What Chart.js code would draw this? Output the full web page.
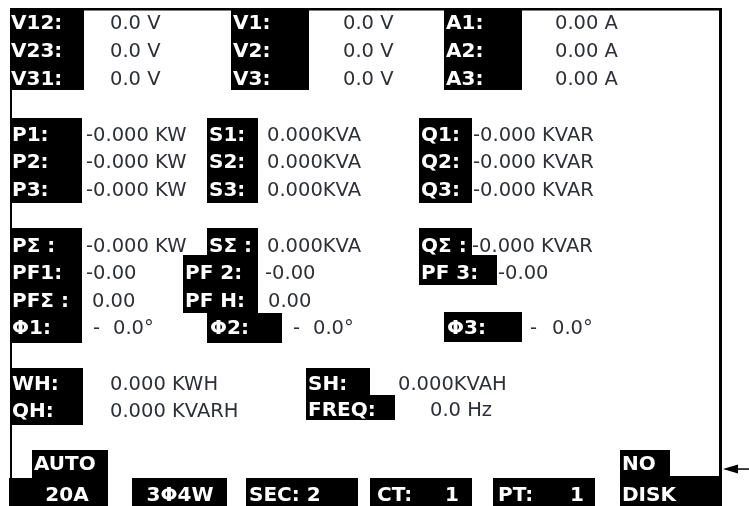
<!DOCTYPE html>
<html>
<head>
<meta charset="utf-8">
<title>Power meter display</title>
<script src="https://cdn.jsdelivr.net/npm/chart.js@4.4.1/dist/chart.umd.min.js"></script>
<style>
    html, body { margin: 0; padding: 0; background: #fff; }
    #box { width: 749px; height: 506px; }
</style>
</head>
<body>
<div id="box"><canvas id="meterChart" width="749" height="506"></canvas></div>
<script>
// Readings shown on the meter screen (-0 keeps the minus sign the meter shows)
const lineVoltLabels = ['V12:', 'V23:', 'V31:'];
const lineVolts = [0.0, 0.0, 0.0];
const phaseVoltLabels = ['V1:', 'V2:', 'V3:'];
const phaseVolts = [0.0, 0.0, 0.0];
const currentLabels = ['A1:', 'A2:', 'A3:'];
const currents = [0.00, 0.00, 0.00];

const activeLabels = ['P1:', 'P2:', 'P3:'];
const activePower = [-0, -0, -0];
const apparentLabels = ['S1:', 'S2:', 'S3:'];
const apparentPower = [0, 0, 0];
const reactiveLabels = ['Q1:', 'Q2:', 'Q3:'];
const reactivePower = [-0, -0, -0];

const totalLabels = ['PΣ :', 'SΣ :', 'QΣ :'];
const totalPower = [-0, 0, -0];
const pfLabels = ['PF1:', 'PF 2:', 'PF 3:'];
const powerFactor = [-0, -0, -0];
const pfTotalLabels = ['PFΣ :', 'PF H:'];
const pfTotals = [0, 0];
const angleLabels = ['Φ1:', 'Φ2:', 'Φ3:'];
const phaseAngles = [-0, -0, -0];

const energyLabels = ['WH:', 'QH:', 'SH:', 'FREQ:'];
const energyValues = [0, 0, 0, 0.0];

const rangeMode = ['AUTO', '20A'];
const wiringMode = '3Φ4W';
const secondsLabel = 'SEC:';
const secondsValue = 2;
const ratioLabels = ['CT:', 'PT:'];
const ratioValues = [1, 1];
const diskStatus = ['NO', 'DISK'];

// Screen layout (panel pixels)
const LABEL_FONT = "bold 20px 'DejaVu Sans'";
const VALUE_FONT = "19.5px 'DejaVu Sans'";
const VALUE_COLOR = '#2e3038';

function fmt(v, digits) {
    const neg = v < 0 || Object.is(v, -0);
    return (neg ? '-' : '') + Math.abs(v).toFixed(digits);
}

function meterPlugin() {
    return {
        id: 'meterScreen',
        afterDraw(chart) {
            const ctx = chart.ctx;
            const xs = chart.scales.x;
            const ys = chart.scales.y;
            const px = v => xs.getPixelForValue(v);
            const py = v => ys.getPixelForValue(v);

            function block(x1, y1, x2, y2) {
                ctx.fillStyle = '#000';
                ctx.fillRect(px(x1), py(y1), px(x2) - px(x1), py(y2) - py(y1));
            }
            function label(t, x, y, align) {
                ctx.font = LABEL_FONT;
                ctx.fillStyle = '#fff';
                ctx.textAlign = align || 'left';
                ctx.textBaseline = 'alphabetic';
                ctx.fillText(t, px(x), py(y));
            }
            function value(t, x, y) {
                ctx.font = VALUE_FONT;
                ctx.fillStyle = VALUE_COLOR;
                ctx.textAlign = 'left';
                ctx.textBaseline = 'alphabetic';
                ctx.fillText(t, px(x), py(y));
            }

            ctx.save();

            // frame
            block(10, 8, 722, 10.5);
            block(10, 8, 12, 478);
            block(719, 8, 722, 478);
            block(670, 476, 722, 478);

            // voltages and currents
            const row1 = [29, 57, 85];
            block(10, 10, 84, 90);
            block(231, 10, 309, 90);
            block(444, 10, 522, 90);
            row1.forEach((y, i) => {
                label(lineVoltLabels[i], 11, y);
                value(fmt(lineVolts[i], 1) + ' V', 110, y);
                label(phaseVoltLabels[i], 233, y);
                value(fmt(phaseVolts[i], 1) + ' V', 343, y);
                label(currentLabels[i], 446, y);
                value(fmt(currents[i], 2) + ' A', 555, y);
            });

            // per phase power
            const row2 = [141, 168, 196];
            block(10, 118, 82, 203);
            block(207, 118, 258, 203);
            block(419, 118, 472, 203);
            row2.forEach((y, i) => {
                label(activeLabels[i], 12, y);
                value(fmt(activePower[i], 3) + ' KW', 86, y);
                label(apparentLabels[i], 209, y);
                value(fmt(apparentPower[i], 3) + 'KVA', 267, y);
                label(reactiveLabels[i], 421, y);
                value(fmt(reactivePower[i], 3) + ' KVAR', 473, y);
            });

            // totals, power factor, phase angle
            block(10, 228, 82, 343);
            block(207, 228, 258, 255);
            block(183, 255, 258, 313);
            block(207, 313, 282, 343);
            block(419, 228, 472, 255);
            block(419, 255, 497, 285);
            block(444, 312, 522, 342);

            label(totalLabels[0], 12, 252);
            value(fmt(totalPower[0], 3) + ' KW', 86, 252);
            label(totalLabels[1], 209, 252);
            value(fmt(totalPower[1], 3) + 'KVA', 267, 252);
            label(totalLabels[2], 421, 252);
            value(fmt(totalPower[2], 3) + ' KVAR', 472, 252);

            label(pfLabels[0], 12, 279);
            value(fmt(powerFactor[0], 2), 86, 279);
            label(pfLabels[1], 185, 279);
            value(fmt(powerFactor[1], 2), 265, 279);
            label(pfLabels[2], 421, 279);
            value(fmt(powerFactor[2], 2), 498, 279);

            label(pfTotalLabels[0], 12, 307);
            value(fmt(pfTotals[0], 2), 92, 307);
            label(pfTotalLabels[1], 185, 307);
            value(fmt(pfTotals[1], 2), 268, 307);

            const angleX = [[12, 93, 113], [210, 293, 313], [447, 530, 552]];
            angleX.forEach((p, i) => {
                label(angleLabels[i], p[0], 334);
                const a = fmt(phaseAngles[i], 1);
                value(a.startsWith('-') ? '-' : '', p[1], 334);
                value(a.replace('-', '') + '°', p[2], 334);
            });

            // energy and frequency
            block(10, 368, 83, 425);
            block(306, 368, 370, 395);
            block(306, 395, 395, 420);
            label(energyLabels[0], 12, 390);
            value(fmt(energyValues[0], 3) + ' KWH', 110, 390);
            label(energyLabels[1], 12, 417);
            value(fmt(energyValues[1], 3) + ' KVARH', 110, 417);
            label(energyLabels[2], 308, 390);
            value(fmt(energyValues[2], 3) + 'KVAH', 398, 390);
            label(energyLabels[3], 308, 416);
            value(fmt(energyValues[3], 1) + ' Hz', 430, 416);

            // status bar
            block(32, 450, 108, 478);
            block(9, 478, 108, 506);
            label(rangeMode[0], 34, 470);
            label(rangeMode[1], 67, 501, 'center');
            block(132, 478, 227, 506);
            label(wiringMode, 180, 501, 'center');
            block(246, 478, 358, 506);
            label(secondsLabel + ' ' + secondsValue, 249, 501);
            block(370, 478, 472, 506);
            label(ratioLabels[0], 377, 501);
            label(String(ratioValues[0]), 459, 501, 'right');
            block(493, 478, 595, 506);
            label(ratioLabels[1], 498, 501);
            label(String(ratioValues[1]), 584, 501, 'right');
            block(620, 450, 670, 478);
            block(620, 478, 722, 506);
            label(diskStatus[0], 622, 470);
            label(diskStatus[1], 622, 501);

            // pointer arrow
            ctx.fillStyle = '#000';
            ctx.beginPath();
            ctx.moveTo(px(723), py(469));
            ctx.lineTo(px(738), py(464.5));
            ctx.lineTo(px(738), py(473.5));
            ctx.closePath();
            ctx.fill();
            ctx.fillRect(px(736), py(468.3), px(749) - px(736), 1.5);

            ctx.restore();
        }
    };
}

const meterChart = new Chart(document.getElementById('meterChart'), {
    type: 'scatter',
    data: { datasets: [] },
    options: {
        responsive: false,
        animation: false,
        events: [],
        layout: { padding: 0 },
        plugins: { legend: { display: false }, tooltip: { enabled: false } },
        scales: {
            x: { type: 'linear', min: 0, max: 749, display: false },
            y: { type: 'linear', min: 0, max: 506, reverse: true, display: false }
        }
    },
    plugins: [meterPlugin()]
});
</script>
</body>
</html>
